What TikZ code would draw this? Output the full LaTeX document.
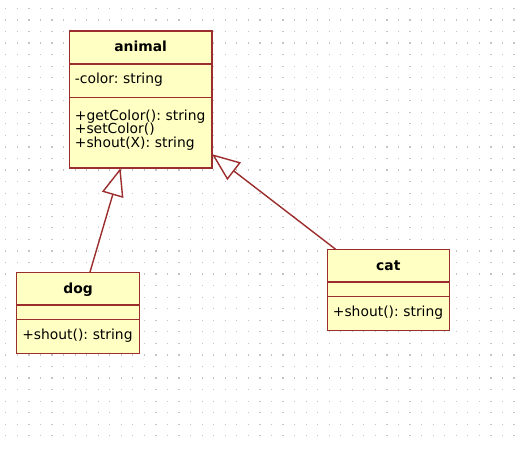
\documentclass[tikz,border=0pt]{standalone}
\usepackage{fontspec}
\setmainfont{DejaVu Sans}
\usetikzlibrary{shapes.multipart,arrows.meta}

\definecolor{classfill}{RGB}{255,255,196}
\definecolor{classline}{RGB}{155,45,45}
\definecolor{griddot}{RGB}{196,196,196}

% struts that fix the height of each compartment
\newcommand\namestrut{\rule[-8.6pt]{0pt}{23.6pt}}
\newcommand\linestrut{\rule[-9.9pt]{0pt}{24.4pt}}
\newcommand\emptystrut{\rule{0pt}{9.6pt}}
\newcommand\firststrut{\rule{0pt}{16.3pt}}
\newcommand\laststrut{\rule[-14.9pt]{0pt}{0pt}}

\tikzset{
  umlclass/.style={rectangle split, rectangle split parts=3,
    draw=classline, fill=classfill, line width=1.05pt,
    inner xsep=4.2pt, inner ysep=0pt, outer sep=0pt,
    anchor=north west, align=left,
    font={\fontsize{10.4}{10.2}\selectfont\frenchspacing\lineskiplimit=-20pt\parindent=0pt}},
  inherit/.style={draw=classline, line width=1.05pt,
    -{Triangle[length=21pt,width=16.5pt,fill=white]}}
}

\begin{document}
\begin{tikzpicture}[x=0.75pt,y=-0.75pt]
    \fill[white] (0,0) rectangle (532,449);
    \useasboundingbox (0,0) rectangle (532,449);

    % dotted grid
    \foreach \i in {0,...,44}{
      \foreach \j in {0,...,37}{
        \pgfmathsetmacro\dx{5.2+11.55*\i}
        \pgfmathsetmacro\dy{7.8+11.55*\j}
      \fill[griddot] (\dx,\dy) rectangle +(1.2,1.2);
    }
    }

    \node[umlclass, text width=98.6pt] (animal) at (69.3,31)
      {\makebox[\hsize]{\namestrut\bfseries animal}
       \nodepart{two}\mbox{\linestrut-color: string}
       \nodepart{three}\mbox{\firststrut+getColor(): string}\\
       \mbox{+setColor()}\\
       \mbox{+shout(X): string\laststrut}};

    \node[umlclass, text width=83.6pt] (dog) at (16.7,272.3)
      {\makebox[\hsize]{\namestrut\bfseries dog}
       \nodepart{two}\emptystrut
       \nodepart{three}\mbox{\linestrut+shout(): string}};

    \node[umlclass, text width=83.1pt] (cat) at (327.3,249.3)
      {\makebox[\hsize]{\namestrut\bfseries cat}
       \nodepart{two}\emptystrut
       \nodepart{three}\mbox{\linestrut+shout(): string}};

    \draw[inherit] (dog) -- (animal);
    \draw[inherit] (cat) -- (animal);
\end{tikzpicture}
\end{document}
